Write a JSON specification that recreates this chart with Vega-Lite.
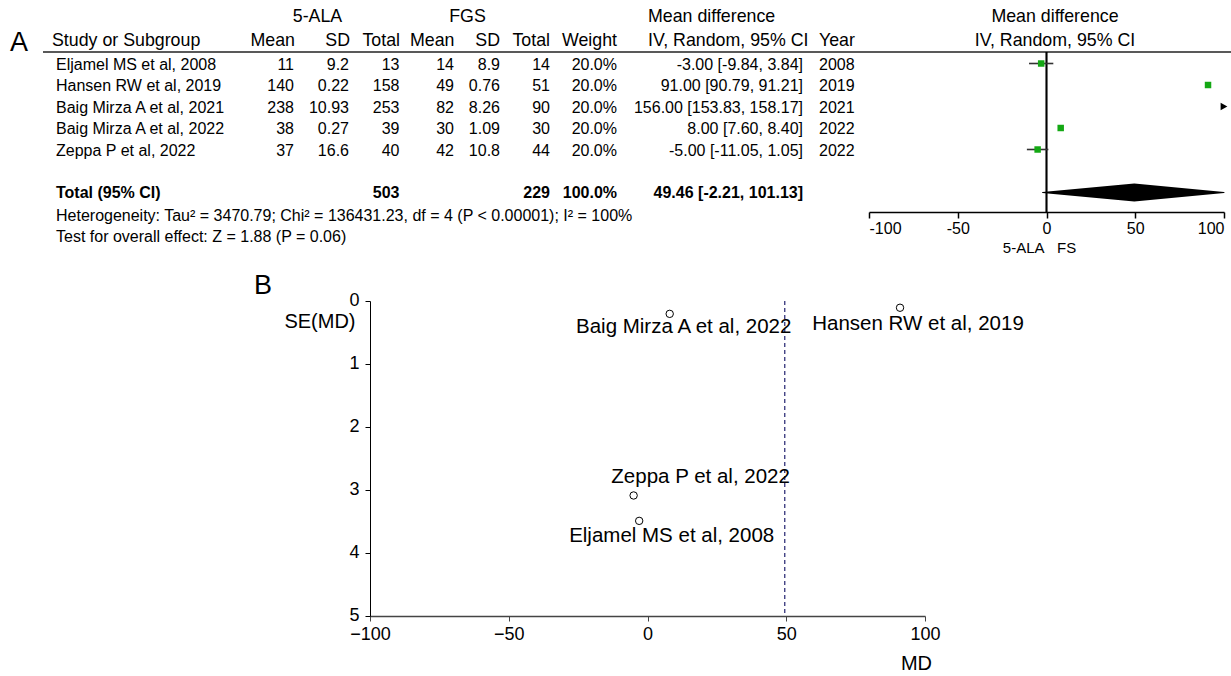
{
  "$schema": "https://vega.github.io/schema/vega-lite/v6.json",
  "padding": 0,
  "background": "white",
  "spacing": 17,
  "config": {
    "view": {"stroke": null},
    "text": {"font": "Liberation Sans", "fontSize": 16, "color": "#000"},
    "title": {"font": "Liberation Sans", "color": "#000"},
    "axis": {"labelFont": "Liberation Sans", "titleFont": "Liberation Sans", "grid": false, "labelColor": "#000", "titleColor": "#000", "titleFontWeight": "normal", "domainColor": "#000", "tickColor": "#000"}
  },
  "datasets": {
    "header": [
      {"line": "top", "sd1": "5-ALA", "sd2": "FGS", "ci": "Mean difference", "forest": "Mean difference"},
      {"line": "bottom", "panel": "A", "study": "Study or Subgroup", "m1": "Mean", "sd1": "SD", "n1": "Total", "m2": "Mean", "sd2": "SD", "n2": "Total", "w": "Weight", "ci": "IV, Random, 95% CI", "year": "Year", "forest": "IV, Random, 95% CI"}
    ],
    "table": [
      {"row": "Eljamel MS et al, 2008", "study": "Eljamel MS et al, 2008", "m1": "11", "sd1": "9.2", "n1": "13", "m2": "14", "sd2": "8.9", "n2": "14", "w": "20.0%", "ci": "-3.00 [-9.84, 3.84]", "year": "2008"},
      {"row": "Hansen RW et al, 2019", "study": "Hansen RW et al, 2019", "m1": "140", "sd1": "0.22", "n1": "158", "m2": "49", "sd2": "0.76", "n2": "51", "w": "20.0%", "ci": "91.00 [90.79, 91.21]", "year": "2019"},
      {"row": "Baig Mirza A et al, 2021", "study": "Baig Mirza A et al, 2021", "m1": "238", "sd1": "10.93", "n1": "253", "m2": "82", "sd2": "8.26", "n2": "90", "w": "20.0%", "ci": "156.00 [153.83, 158.17]", "year": "2021"},
      {"row": "Baig Mirza A et al, 2022", "study": "Baig Mirza A et al, 2022", "m1": "38", "sd1": "0.27", "n1": "39", "m2": "30", "sd2": "1.09", "n2": "30", "w": "20.0%", "ci": "8.00 [7.60, 8.40]", "year": "2022"},
      {"row": "Zeppa P et al, 2022", "study": "Zeppa P et al, 2022", "m1": "37", "sd1": "16.6", "n1": "40", "m2": "42", "sd2": "10.8", "n2": "44", "w": "20.0%", "ci": "-5.00 [-11.05, 1.05]", "year": "2022"},
      {"row": "Total", "study": "Total (95% CI)", "n1": "503", "n2": "229", "w": "100.0%", "ci": "49.46 [-2.21, 101.13]"},
      {"row": "Heterogeneity", "study": "Heterogeneity: Tau² = 3470.79; Chi² = 136431.23, df = 4 (P < 0.00001); I² = 100%"},
      {"row": "Overall effect", "study": "Test for overall effect: Z = 1.88 (P = 0.06)"}
    ],
    "forest": [
      {"study": "Eljamel MS et al, 2008", "md": -3, "lo": -9.84, "hi": 3.84},
      {"study": "Hansen RW et al, 2019", "md": 91, "lo": 90.79, "hi": 91.21},
      {"study": "Baig Mirza A et al, 2021", "md": 156, "lo": 153.83, "hi": 158.17},
      {"study": "Baig Mirza A et al, 2022", "md": 8, "lo": 7.6, "hi": 8.4},
      {"study": "Zeppa P et al, 2022", "md": -5, "lo": -11.05, "hi": 1.05}
    ],
    "pooled": [
      {"part": "lower", "value": -2.21},
      {"part": "estimate", "value": 49.46},
      {"part": "upper", "value": 101.13}
    ],
    "funnel": [
      {"study": "Eljamel MS et al, 2008", "md": -3, "se": 3.49},
      {"study": "Hansen RW et al, 2019", "md": 91, "se": 0.107},
      {"study": "Baig Mirza A et al, 2021", "md": 156, "se": 1.107},
      {"study": "Baig Mirza A et al, 2022", "md": 8, "se": 0.204},
      {"study": "Zeppa P et al, 2022", "md": -5, "se": 3.087}
    ]
  },
  "vconcat": [
    {
      "columns": 12,
      "spacing": {"row": 0, "column": 0},
      "align": "each",
      "bounds": "flush",
      "concat": [
        {"width": 43, "height": 32, "data": {"values": []}, "mark": "point"},
        {"width": 197, "height": 32, "data": {"values": []}, "mark": "point"},
        {"width": 54, "height": 32, "data": {"values": []}, "mark": "point"},
        {"width": 55, "height": 32, "data": {"name": "header"}, "transform": [{"filter": "datum.line === 'top'"}], "mark": {"type": "text", "fontSize": 17.8, "align": "center", "dx": -4, "dy": 1}, "encoding": {"text": {"field": "sd1", "type": "nominal"}}},
        {"width": 51, "height": 32, "data": {"values": []}, "mark": "point"},
        {"width": 54, "height": 32, "data": {"values": []}, "mark": "point"},
        {"width": 46, "height": 32, "data": {"name": "header"}, "transform": [{"filter": "datum.line === 'top'"}], "mark": {"type": "text", "fontSize": 17.8, "align": "center", "dx": -9.5, "dy": 1}, "encoding": {"text": {"field": "sd2", "type": "nominal"}}},
        {"width": 50, "height": 32, "data": {"values": []}, "mark": "point"},
        {"width": 67, "height": 32, "data": {"values": []}, "mark": "point"},
        {"width": 187, "height": 32, "data": {"name": "header"}, "transform": [{"filter": "datum.line === 'top'"}], "mark": {"type": "text", "fontSize": 17.8, "align": "left", "dx": -62.5, "dy": 1}, "encoding": {"text": {"field": "ci", "type": "nominal"}}},
        {"width": 65, "height": 32, "data": {"values": []}, "mark": "point"},
        {"width": 362, "height": 32, "data": {"name": "header"}, "transform": [{"filter": "datum.line === 'top'"}], "mark": {"type": "text", "fontSize": 17.8, "align": "center", "dx": 5, "dy": 1}, "encoding": {"text": {"field": "forest", "type": "nominal"}}},

        {"width": 43, "height": 20, "data": {"name": "header"}, "transform": [{"filter": "datum.line === 'bottom'"}], "mark": {"type": "text", "fontSize": 27, "align": "center", "dx": -2.5, "dy": 1}, "encoding": {"text": {"field": "panel", "type": "nominal"}}},
        {"width": 197, "height": 20, "data": {"name": "header"}, "transform": [{"filter": "datum.line === 'bottom'"}], "layer": [
          {"mark": {"type": "text", "fontSize": 17.8, "align": "left", "dx": -89.5, "dy": -1}, "encoding": {"text": {"field": "study", "type": "nominal"}}},
          {"mark": {"type": "rule", "color": "#222", "strokeWidth": 1.6}, "encoding": {"y": {"datum": 0, "type": "quantitative", "scale": {"domain": [0, 1]}, "axis": null}}}
        ]},
        {"width": 54, "height": 20, "data": {"name": "header"}, "transform": [{"filter": "datum.line === 'bottom'"}], "layer": [
          {"mark": {"type": "text", "fontSize": 17.8, "align": "right", "dx": 28, "dy": -1}, "encoding": {"text": {"field": "m1", "type": "nominal"}}},
          {"mark": {"type": "rule", "color": "#222", "strokeWidth": 1.6}, "encoding": {"y": {"datum": 0, "type": "quantitative", "scale": {"domain": [0, 1]}, "axis": null}}}
        ]},
        {"width": 55, "height": 20, "data": {"name": "header"}, "transform": [{"filter": "datum.line === 'bottom'"}], "layer": [
          {"mark": {"type": "text", "fontSize": 17.8, "align": "right", "dx": 28.5, "dy": -1}, "encoding": {"text": {"field": "sd1", "type": "nominal"}}},
          {"mark": {"type": "rule", "color": "#222", "strokeWidth": 1.6}, "encoding": {"y": {"datum": 0, "type": "quantitative", "scale": {"domain": [0, 1]}, "axis": null}}}
        ]},
        {"width": 51, "height": 20, "data": {"name": "header"}, "transform": [{"filter": "datum.line === 'bottom'"}], "layer": [
          {"mark": {"type": "text", "fontSize": 17.8, "align": "right", "dx": 25.5, "dy": -1}, "encoding": {"text": {"field": "n1", "type": "nominal"}}},
          {"mark": {"type": "rule", "color": "#222", "strokeWidth": 1.6}, "encoding": {"y": {"datum": 0, "type": "quantitative", "scale": {"domain": [0, 1]}, "axis": null}}}
        ]},
        {"width": 54, "height": 20, "data": {"name": "header"}, "transform": [{"filter": "datum.line === 'bottom'"}], "layer": [
          {"mark": {"type": "text", "fontSize": 17.8, "align": "right", "dx": 27.5, "dy": -1}, "encoding": {"text": {"field": "m2", "type": "nominal"}}},
          {"mark": {"type": "rule", "color": "#222", "strokeWidth": 1.6}, "encoding": {"y": {"datum": 0, "type": "quantitative", "scale": {"domain": [0, 1]}, "axis": null}}}
        ]},
        {"width": 46, "height": 20, "data": {"name": "header"}, "transform": [{"filter": "datum.line === 'bottom'"}], "layer": [
          {"mark": {"type": "text", "fontSize": 17.8, "align": "right", "dx": 23, "dy": -1}, "encoding": {"text": {"field": "sd2", "type": "nominal"}}},
          {"mark": {"type": "rule", "color": "#222", "strokeWidth": 1.6}, "encoding": {"y": {"datum": 0, "type": "quantitative", "scale": {"domain": [0, 1]}, "axis": null}}}
        ]},
        {"width": 50, "height": 20, "data": {"name": "header"}, "transform": [{"filter": "datum.line === 'bottom'"}], "layer": [
          {"mark": {"type": "text", "fontSize": 17.8, "align": "right", "dx": 25, "dy": -1}, "encoding": {"text": {"field": "n2", "type": "nominal"}}},
          {"mark": {"type": "rule", "color": "#222", "strokeWidth": 1.6}, "encoding": {"y": {"datum": 0, "type": "quantitative", "scale": {"domain": [0, 1]}, "axis": null}}}
        ]},
        {"width": 67, "height": 20, "data": {"name": "header"}, "transform": [{"filter": "datum.line === 'bottom'"}], "layer": [
          {"mark": {"type": "text", "fontSize": 17.8, "align": "right", "dx": 33.5, "dy": -1}, "encoding": {"text": {"field": "w", "type": "nominal"}}},
          {"mark": {"type": "rule", "color": "#222", "strokeWidth": 1.6}, "encoding": {"y": {"datum": 0, "type": "quantitative", "scale": {"domain": [0, 1]}, "axis": null}}}
        ]},
        {"width": 187, "height": 20, "data": {"name": "header"}, "transform": [{"filter": "datum.line === 'bottom'"}], "layer": [
          {"mark": {"type": "text", "fontSize": 17.8, "align": "left", "dx": -62.5, "dy": -1}, "encoding": {"text": {"field": "ci", "type": "nominal"}}},
          {"mark": {"type": "rule", "color": "#222", "strokeWidth": 1.6}, "encoding": {"y": {"datum": 0, "type": "quantitative", "scale": {"domain": [0, 1]}, "axis": null}}}
        ]},
        {"width": 65, "height": 20, "data": {"name": "header"}, "transform": [{"filter": "datum.line === 'bottom'"}], "layer": [
          {"mark": {"type": "text", "fontSize": 17.8, "align": "left", "dx": -17.5, "dy": -1}, "encoding": {"text": {"field": "year", "type": "nominal"}}},
          {"mark": {"type": "rule", "color": "#222", "strokeWidth": 1.6}, "encoding": {"y": {"datum": 0, "type": "quantitative", "scale": {"domain": [0, 1]}, "axis": null}}}
        ]},
        {"width": 362, "height": 20, "data": {"name": "header"}, "transform": [{"filter": "datum.line === 'bottom'"}], "layer": [
          {"mark": {"type": "text", "fontSize": 17.8, "align": "center", "dx": 5, "dy": -1}, "encoding": {"text": {"field": "forest", "type": "nominal"}}},
          {"mark": {"type": "rule", "color": "#222", "strokeWidth": 1.6}, "encoding": {"y": {"datum": 0, "type": "quantitative", "scale": {"domain": [0, 1]}, "axis": null}}}
        ]},

        {"width": 43, "height": 200, "data": {"values": []}, "mark": "point"},
        {"width": 197, "height": 200, "data": {"name": "table"},
         "encoding": {"y": {"field": "row", "type": "nominal", "scale": {"type": "point", "domain": ["Eljamel MS et al, 2008", "Hansen RW et al, 2019", "Baig Mirza A et al, 2021", "Baig Mirza A et al, 2022", "Zeppa P et al, 2022", "gap", "Total", "Heterogeneity", "Overall effect"], "padding": 0.651, "align": 0.4107}, "axis": null}},
         "layer": [
          {"transform": [{"filter": "datum.row !== 'Total' && isValid(datum.study)"}], "mark": {"type": "text", "align": "left", "dx": -85.5, "dy": 1.5}, "encoding": {"text": {"field": "study", "type": "nominal"}}},
          {"transform": [{"filter": "datum.row === 'Total'"}], "mark": {"type": "text", "align": "left", "dx": -85.5, "dy": 0.5, "fontWeight": "bold"}, "encoding": {"text": {"field": "study", "type": "nominal"}}}
        ]},
        {"width": 54, "height": 200, "data": {"name": "table"}, "transform": [{"filter": "isValid(datum.m1)"}],
         "mark": {"type": "text", "align": "right", "dx": 27, "dy": 1.5},
         "encoding": {"y": {"field": "row", "type": "nominal", "scale": {"type": "point", "domain": ["Eljamel MS et al, 2008", "Hansen RW et al, 2019", "Baig Mirza A et al, 2021", "Baig Mirza A et al, 2022", "Zeppa P et al, 2022", "gap", "Total", "Heterogeneity", "Overall effect"], "padding": 0.651, "align": 0.4107}, "axis": null}, "text": {"field": "m1", "type": "nominal"}}},
        {"width": 55, "height": 200, "data": {"name": "table"}, "transform": [{"filter": "isValid(datum.sd1)"}],
         "mark": {"type": "text", "align": "right", "dx": 27.5, "dy": 1.5},
         "encoding": {"y": {"field": "row", "type": "nominal", "scale": {"type": "point", "domain": ["Eljamel MS et al, 2008", "Hansen RW et al, 2019", "Baig Mirza A et al, 2021", "Baig Mirza A et al, 2022", "Zeppa P et al, 2022", "gap", "Total", "Heterogeneity", "Overall effect"], "padding": 0.651, "align": 0.4107}, "axis": null}, "text": {"field": "sd1", "type": "nominal"}}},
        {"width": 51, "height": 200, "data": {"name": "table"},
         "encoding": {"y": {"field": "row", "type": "nominal", "scale": {"type": "point", "domain": ["Eljamel MS et al, 2008", "Hansen RW et al, 2019", "Baig Mirza A et al, 2021", "Baig Mirza A et al, 2022", "Zeppa P et al, 2022", "gap", "Total", "Heterogeneity", "Overall effect"], "padding": 0.651, "align": 0.4107}, "axis": null}},
         "layer": [
          {"transform": [{"filter": "datum.row !== 'Total' && isValid(datum.n1)"}], "mark": {"type": "text", "align": "right", "dx": 25, "dy": 1.5}, "encoding": {"text": {"field": "n1", "type": "nominal"}}},
          {"transform": [{"filter": "datum.row === 'Total'"}], "mark": {"type": "text", "align": "right", "dx": 25, "dy": 0.5, "fontWeight": "bold"}, "encoding": {"text": {"field": "n1", "type": "nominal"}}}
        ]},
        {"width": 54, "height": 200, "data": {"name": "table"}, "transform": [{"filter": "isValid(datum.m2)"}],
         "mark": {"type": "text", "align": "right", "dx": 27, "dy": 1.5},
         "encoding": {"y": {"field": "row", "type": "nominal", "scale": {"type": "point", "domain": ["Eljamel MS et al, 2008", "Hansen RW et al, 2019", "Baig Mirza A et al, 2021", "Baig Mirza A et al, 2022", "Zeppa P et al, 2022", "gap", "Total", "Heterogeneity", "Overall effect"], "padding": 0.651, "align": 0.4107}, "axis": null}, "text": {"field": "m2", "type": "nominal"}}},
        {"width": 46, "height": 200, "data": {"name": "table"}, "transform": [{"filter": "isValid(datum.sd2)"}],
         "mark": {"type": "text", "align": "right", "dx": 23, "dy": 1.5},
         "encoding": {"y": {"field": "row", "type": "nominal", "scale": {"type": "point", "domain": ["Eljamel MS et al, 2008", "Hansen RW et al, 2019", "Baig Mirza A et al, 2021", "Baig Mirza A et al, 2022", "Zeppa P et al, 2022", "gap", "Total", "Heterogeneity", "Overall effect"], "padding": 0.651, "align": 0.4107}, "axis": null}, "text": {"field": "sd2", "type": "nominal"}}},
        {"width": 50, "height": 200, "data": {"name": "table"},
         "encoding": {"y": {"field": "row", "type": "nominal", "scale": {"type": "point", "domain": ["Eljamel MS et al, 2008", "Hansen RW et al, 2019", "Baig Mirza A et al, 2021", "Baig Mirza A et al, 2022", "Zeppa P et al, 2022", "gap", "Total", "Heterogeneity", "Overall effect"], "padding": 0.651, "align": 0.4107}, "axis": null}},
         "layer": [
          {"transform": [{"filter": "datum.row !== 'Total' && isValid(datum.n2)"}], "mark": {"type": "text", "align": "right", "dx": 25, "dy": 1.5}, "encoding": {"text": {"field": "n2", "type": "nominal"}}},
          {"transform": [{"filter": "datum.row === 'Total'"}], "mark": {"type": "text", "align": "right", "dx": 25, "dy": 0.5, "fontWeight": "bold"}, "encoding": {"text": {"field": "n2", "type": "nominal"}}}
        ]},
        {"width": 67, "height": 200, "data": {"name": "table"},
         "encoding": {"y": {"field": "row", "type": "nominal", "scale": {"type": "point", "domain": ["Eljamel MS et al, 2008", "Hansen RW et al, 2019", "Baig Mirza A et al, 2021", "Baig Mirza A et al, 2022", "Zeppa P et al, 2022", "gap", "Total", "Heterogeneity", "Overall effect"], "padding": 0.651, "align": 0.4107}, "axis": null}},
         "layer": [
          {"transform": [{"filter": "datum.row !== 'Total' && isValid(datum.w)"}], "mark": {"type": "text", "align": "right", "dx": 33.5, "dy": 1.5}, "encoding": {"text": {"field": "w", "type": "nominal"}}},
          {"transform": [{"filter": "datum.row === 'Total'"}], "mark": {"type": "text", "align": "right", "dx": 33.5, "dy": 0.5, "fontWeight": "bold"}, "encoding": {"text": {"field": "w", "type": "nominal"}}}
        ]},
        {"width": 187, "height": 200, "data": {"name": "table"},
         "encoding": {"y": {"field": "row", "type": "nominal", "scale": {"type": "point", "domain": ["Eljamel MS et al, 2008", "Hansen RW et al, 2019", "Baig Mirza A et al, 2021", "Baig Mirza A et al, 2022", "Zeppa P et al, 2022", "gap", "Total", "Heterogeneity", "Overall effect"], "padding": 0.651, "align": 0.4107}, "axis": null}},
         "layer": [
          {"transform": [{"filter": "datum.row !== 'Total' && isValid(datum.ci)"}], "mark": {"type": "text", "align": "right", "dx": 92.5, "dy": 1.5}, "encoding": {"text": {"field": "ci", "type": "nominal"}}},
          {"transform": [{"filter": "datum.row === 'Total'"}], "mark": {"type": "text", "align": "right", "dx": 92.5, "dy": 0.5, "fontWeight": "bold"}, "encoding": {"text": {"field": "ci", "type": "nominal"}}}
        ]},
        {"width": 65, "height": 200, "data": {"name": "table"}, "transform": [{"filter": "isValid(datum.year)"}],
         "mark": {"type": "text", "align": "left", "dx": -17.5, "dy": 1.5},
         "encoding": {"y": {"field": "row", "type": "nominal", "scale": {"type": "point", "domain": ["Eljamel MS et al, 2008", "Hansen RW et al, 2019", "Baig Mirza A et al, 2021", "Baig Mirza A et al, 2022", "Zeppa P et al, 2022", "gap", "Total", "Heterogeneity", "Overall effect"], "padding": 0.651, "align": 0.4107}, "axis": null}, "text": {"field": "year", "type": "nominal"}}},
        {"width": 355, "height": 160, "data": {"name": "forest"},
         "layer": [
          {"mark": {"type": "rule", "color": "#000", "strokeWidth": 1.3},
           "encoding": {"x": {"datum": 0, "type": "quantitative", "scale": {"domain": [-100, 100], "nice": false, "zero": false, "clamp": true},
             "axis": {"values": [-100, -50, 0, 50, 100], "labelExpr": "'' + datum.value", "title": "5-ALA\u00a0\u00a0\u00a0FS", "titleFontSize": 15, "titleX": 170, "titleY": 35, "titleBaseline": "middle", "titleAlign": "center", "labelFontSize": 16, "tickSize": 6, "labelPadding": 2, "domainWidth": 1.5, "tickWidth": 1.5}}}},
          {"transform": [{"filter": "datum.hi <= 100"}], "mark": {"type": "rule", "color": "#333", "strokeWidth": 1.6},
           "encoding": {"x": {"field": "lo", "type": "quantitative"}, "x2": {"field": "hi"},
             "y": {"field": "study", "type": "nominal", "scale": {"type": "point", "domain": ["Eljamel MS et al, 2008", "Hansen RW et al, 2019", "Baig Mirza A et al, 2021", "Baig Mirza A et al, 2022", "Zeppa P et al, 2022", "gap", "Total"], "padding": 0.721, "align": 0.371}, "axis": null}}},
          {"transform": [{"filter": "datum.md <= 100"}], "mark": {"type": "point", "shape": "square", "filled": true, "color": "#14a814", "size": 42, "opacity": 1},
           "encoding": {"x": {"field": "md", "type": "quantitative"}, "y": {"field": "study", "type": "nominal"}}},
          {"transform": [{"filter": "datum.lo > 100"}], "mark": {"type": "point", "shape": "triangle-right", "filled": true, "color": "#000", "size": 60, "opacity": 1},
           "encoding": {"x": {"field": "lo", "type": "quantitative"}, "y": {"field": "study", "type": "nominal"}}},
          {"data": {"name": "pooled"}, "mark": {"type": "trail", "color": "#000"},
           "encoding": {"x": {"field": "value", "type": "quantitative"}, "y": {"datum": "Total", "type": "nominal"},
             "size": {"condition": {"test": "datum.part === 'estimate'", "value": 18}, "value": 0}}}
        ]}
      ]
    },
    {
      "spacing": 0,
      "bounds": "flush",
      "hconcat": [
        {"width": 370, "height": 1, "data": {"values": [{"panel": "B"}]}, "mark": {"type": "text", "fontSize": 27, "dx": 78, "dy": -15.5}, "encoding": {"text": {"field": "panel", "type": "nominal"}}},
        {"width": 555, "height": 315, "data": {"name": "funnel"},
         "layer": [
          {"data": {"name": "pooled"}, "transform": [{"filter": "datum.part === 'estimate'"}],
           "mark": {"type": "rule", "color": "#33337a", "strokeDash": [4, 3], "strokeWidth": 1.3},
           "encoding": {"x": {"field": "value", "type": "quantitative", "scale": {"domain": [-100, 100], "nice": false, "zero": false},
             "axis": {"values": [-100, -50, 0, 50, 100], "title": "MD", "titleX": 546, "titleY": 47, "titleAlign": "center", "titleBaseline": "middle", "titleFontSize": 20, "labelFontSize": 18, "tickSize": 5, "labelPadding": 4, "labelFlush": false, "domainColor": "#444", "domainWidth": 1.5, "tickColor": "#444"}}}},
          {"mark": {"type": "point", "shape": "circle", "filled": false, "color": "#000", "size": 55, "strokeWidth": 1, "opacity": 1, "clip": true},
           "encoding": {"x": {"field": "md", "type": "quantitative"},
             "y": {"field": "se", "type": "quantitative", "scale": {"domain": [0, 5], "reverse": true, "nice": false, "zero": false},
               "axis": {"values": [0, 1, 2, 3, 4, 5], "format": "d", "title": "SE(MD)", "titleAngle": 0, "titleAlign": "right", "titleBaseline": "middle", "titleX": -15, "titleY": 20, "titleFontSize": 20, "labelFontSize": 18, "labelOffset": -1, "tickSize": 5, "labelPadding": 6, "labelFlush": false}}}},
          {"transform": [{"filter": "datum.study === 'Baig Mirza A et al, 2022'"}], "mark": {"type": "text", "fontSize": 20.5, "dx": 14, "dy": 13},
           "encoding": {"x": {"field": "md", "type": "quantitative"}, "y": {"field": "se", "type": "quantitative"}, "text": {"field": "study", "type": "nominal"}}},
          {"transform": [{"filter": "datum.study === 'Hansen RW et al, 2019'"}], "mark": {"type": "text", "fontSize": 20.5, "dx": 18, "dy": 16},
           "encoding": {"x": {"field": "md", "type": "quantitative"}, "y": {"field": "se", "type": "quantitative"}, "text": {"field": "study", "type": "nominal"}}},
          {"transform": [{"filter": "datum.study === 'Zeppa P et al, 2022'"}], "mark": {"type": "text", "fontSize": 20.5, "dx": 67, "dy": -18},
           "encoding": {"x": {"field": "md", "type": "quantitative"}, "y": {"field": "se", "type": "quantitative"}, "text": {"field": "study", "type": "nominal"}}},
          {"transform": [{"filter": "datum.study === 'Eljamel MS et al, 2008'"}], "mark": {"type": "text", "fontSize": 20.5, "dx": 32.5, "dy": 15},
           "encoding": {"x": {"field": "md", "type": "quantitative"}, "y": {"field": "se", "type": "quantitative"}, "text": {"field": "study", "type": "nominal"}}}
        ]}
      ]
    }
  ]
}
